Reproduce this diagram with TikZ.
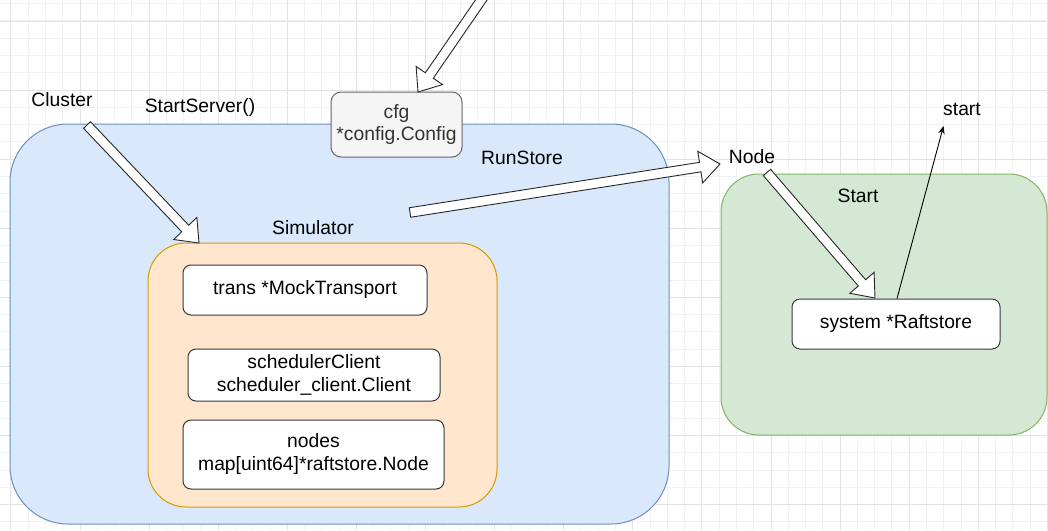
\documentclass[tikz,border=0pt]{standalone}
\usepackage{fontspec}
\setmainfont{Liberation Sans}
\usetikzlibrary{calc,arrows.meta}
\definecolor{bluefill}{HTML}{DAE8FC}
\definecolor{bluedraw}{HTML}{6C8EBF}
\definecolor{orangefill}{HTML}{FFE6CC}
\definecolor{orangedraw}{HTML}{D79B00}
\definecolor{greenfill}{HTML}{D5E8D4}
\definecolor{greendraw}{HTML}{82B366}
\definecolor{cfgfill}{HTML}{F5F5F5}
\definecolor{cfgdraw}{HTML}{666666}
\definecolor{cfgtext}{HTML}{333333}
\definecolor{boxdraw}{HTML}{36393D}
\definecolor{gridminor}{HTML}{F1F1F1}
\definecolor{gridmajor}{HTML}{E3E3E3}
\newcommand{\flexarrow}[2]{%
  \coordinate (fabase) at ($(#2)!20pt!(#1)$);
  \draw[blockarrow] ($(#1)!4.8pt!90:(#2)$) -- ($(fabase)!4.8pt!90:(#2)$)
    -- ($(fabase)!16pt!90:(#2)$) -- (#2) -- ($(fabase)!16pt!-90:(#2)$)
    -- ($(fabase)!4.8pt!-90:(#2)$) -- ($(#1)!4.8pt!-90:(#2)$) -- cycle;
}
\newcommand{\twolines}[2]{\raisebox{-2pt}{\begin{tabular}{@{}c@{}}#1\\[0.5pt]#2\end{tabular}}}
\begin{document}
\begin{tikzpicture}[x=1pt,y=-1pt,
  txt/.style={font=\fontsize{19.3}{22.5}\selectfont, inner sep=0pt, align=center, text=black},
  container/.style={draw, line width=1pt, inner sep=0pt},
  field/.style={container, draw=boxdraw, fill=white, rounded corners=8pt, txt},
  blockarrow/.style={draw=black!85, fill=white, line width=0.9pt, line join=miter},
  thinarrow/.style={draw=black, line width=0.9pt, -{Stealth[length=8pt,width=6.5pt]}},
]
\useasboundingbox (0,0) rectangle (1048,530);
\clip (0,0) rectangle (1048,530);
\fill[white] (0,0) rectangle (1048,530);
% grid
\foreach \i in {0,...,61} {\draw[gridminor, line width=1pt] ({-6.375+17.275*\i},0) -- ++(0,530);}
\foreach \j in {0,...,30} {\draw[gridminor, line width=1pt] (0,{3.7+17.275*\j}) -- ++(1048,0);}
\foreach \i in {0,...,15} {\draw[gridmajor, line width=1pt] ({10.9+69.1*\i},0) -- ++(0,530);}
\foreach \j in {0,...,7} {\draw[gridmajor, line width=1pt] (0,{21+69.1*\j}) -- ++(1048,0);}

% containers
\node[container, draw=bluedraw, fill=bluefill, rounded corners=58pt,
      minimum width=659pt, minimum height=400pt] (cluster) at (339.5,324) {};
\node[container, draw=orangedraw, fill=orangefill, rounded corners=38pt,
      minimum width=349pt, minimum height=264pt] (sim) at (322.5,375) {};
\node[container, draw=greendraw, fill=greenfill, rounded corners=38pt,
      minimum width=326pt, minimum height=261pt] (nodebox) at (884,304.5) {};

% fields
\node[field, minimum width=244pt, minimum height=50pt] (trans) at (305,290) {\raisebox{-2pt}{trans *MockTransport}};
\node[field, minimum width=252pt, minimum height=52pt] (sched) at (314,375) {\twolines{schedulerClient}{scheduler\_client.Client}};
\node[field, minimum width=261pt, minimum height=69pt] (nodes) at (313.5,454.5) {\twolines{nodes}{map[uint64]*raftstore.Node}};
\node[field, minimum width=208pt, minimum height=50pt] (system) at (896,324) {\raisebox{-2pt}{system *Raftstore}};
\node[field, draw=cfgdraw, fill=cfgfill, text=cfgtext, rounded corners=10pt,
      minimum width=131pt, minimum height=65pt] (cfg) at (396.5,124.5) {cfg\\*config.Config};

% labels
\node[txt] (lcluster) at (62,99.5) {Cluster};
\node[txt] (lstartserver) at (200,108) {StartServer()};
\node[txt] (lrunstore) at (522,158) {RunStore};
\node[txt] (lsim) at (313,228) {Simulator};
\node[txt] (lnode) at (752,157) {Node};
\node[txt] (lstart) at (858,195.5) {Start};
\node[txt] (lstartsmall) at (962,109) {start};

% arrows
\coordinate (clTail) at (87,125);
\coordinate (clTip) at (199,243);
\flexarrow{clTail}{clTip}
\coordinate (cfgTail) at (484,-4);
\coordinate (cfgTip) at (418,92);
\flexarrow{cfgTail}{cfgTip}
\coordinate (rsTail) at (410,212.5);
\coordinate (rsTip) at (720,164);
\flexarrow{rsTail}{rsTip}
\coordinate (ndTail) at (767,172.5);
\coordinate (ndTip) at (875,298);
\flexarrow{ndTail}{ndTip}
\coordinate (sysTop) at (897,298.5);
\coordinate (stEnd) at (943.5,126);
\draw[thinarrow] (sysTop) -- (stEnd);
\end{tikzpicture}
\end{document}
